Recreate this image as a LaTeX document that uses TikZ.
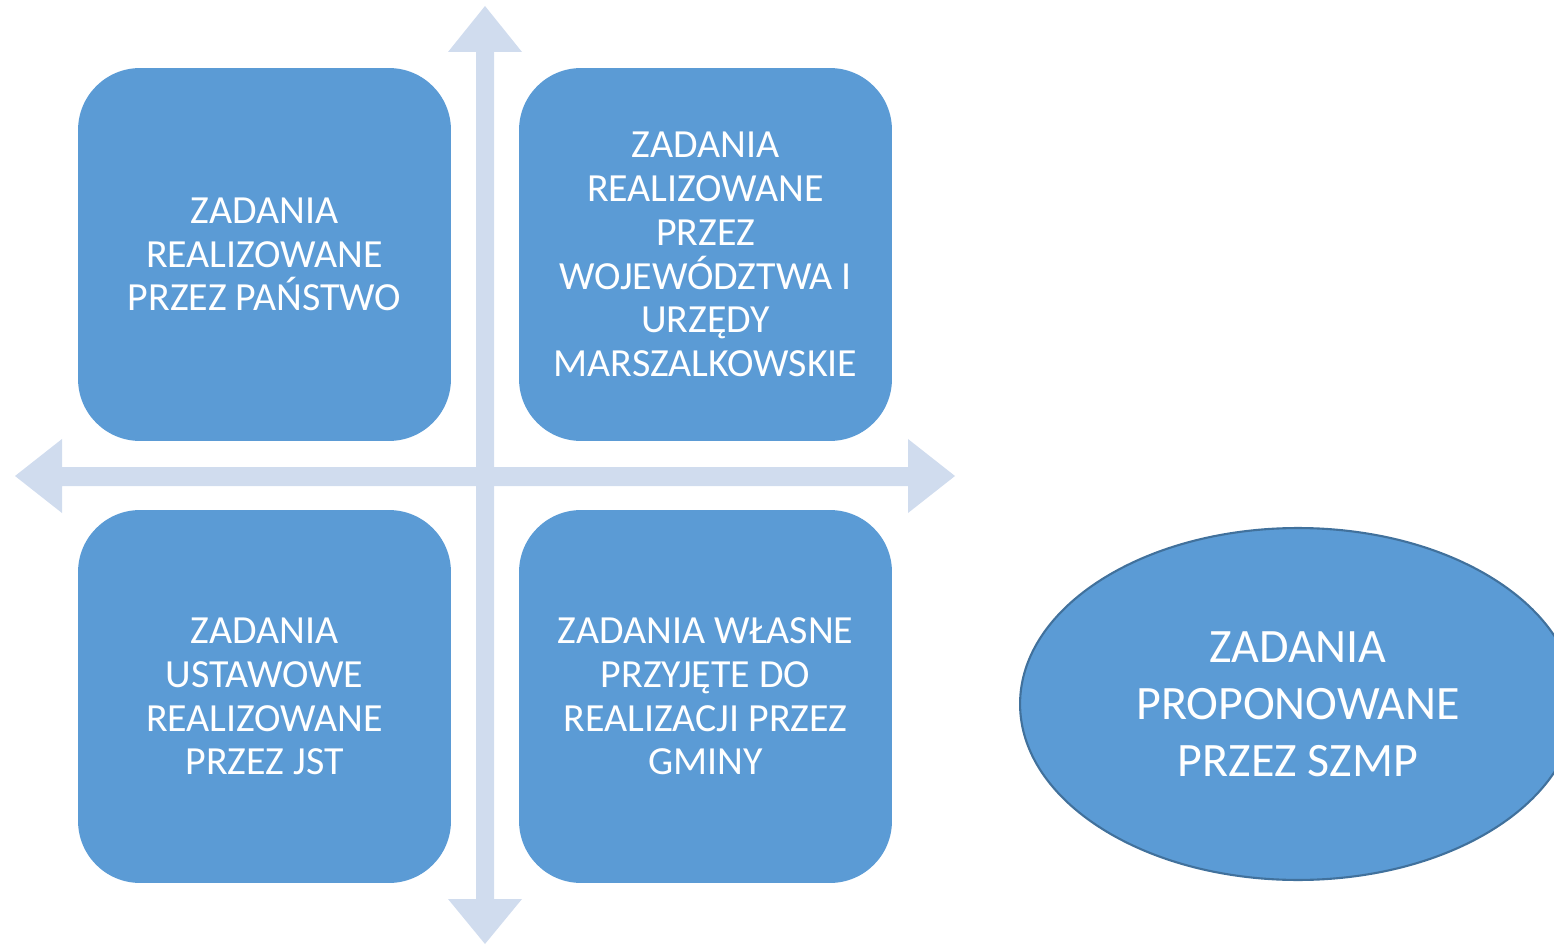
\documentclass[tikz,border=0pt]{standalone}
\usepackage{fontspec}
\setmainfont{Carlito}
\usetikzlibrary{shapes.geometric}
\definecolor{boxblue}{HTML}{5B9BD5}
\definecolor{axisblue}{HTML}{D0DCEE}
\definecolor{edgeblue}{HTML}{41719C}
\tikzset{
  quad/.style={fill=boxblue, draw=none, rounded corners=1.24cm, minimum width=7.46cm, minimum height=7.46cm,
    inner sep=0pt, align=center, text=white, font=\fontsize{22.7}{24.9}\selectfont},
  oval/.style={ellipse, fill=boxblue, draw=edgeblue, line width=1.2pt, minimum width=11.12cm, minimum height=7.04cm,
    inner sep=0pt, align=center, text=white, font=\fontsize{27.3}{32.5}\selectfont},
  axis/.style={fill=axisblue, draw=none}
}
\begin{document}
\begin{tikzpicture}[x=0.02cm, y=-0.02cm]
\useasboundingbox (0,0) rectangle (1554,945);
% axes
\fill[axis] (476,52) -- (448,52) -- (485,6) -- (522,52) -- (494,52) -- (494,899) -- (522,899) -- (485,944) -- (448,899) -- (476,899) -- cycle;
\fill[axis] (62,467) -- (62,439) -- (15,476) -- (62,513) -- (62,486) -- (908,486) -- (908,513) -- (955,476) -- (908,439) -- (908,467) -- cycle;
% boxes
\node[quad] (tl) at (264.5,254.5) {ZADANIA\\REALIZOWANE\\PRZEZ PAŃSTWO};
\node[quad] (tr) at (705.5,254.5) {ZADANIA\\REALIZOWANE\\PRZEZ\\WOJEWÓDZTWA I\\URZĘDY\\MARSZALKOWSKIE};
\node[quad] (bl) at (264.5,696.5) {ZADANIA\\USTAWOWE\\REALIZOWANE\\PRZEZ JST};
\node[quad] (br) at (705.5,696.5) {ZADANIA WŁASNE\\PRZYJĘTE DO\\REALIZACJI PRZEZ\\GMINY};
\node[oval] (szmp) at (1298,704) {ZADANIA\\PROPONOWANE\\PRZEZ SZMP};
\end{tikzpicture}
\end{document}
